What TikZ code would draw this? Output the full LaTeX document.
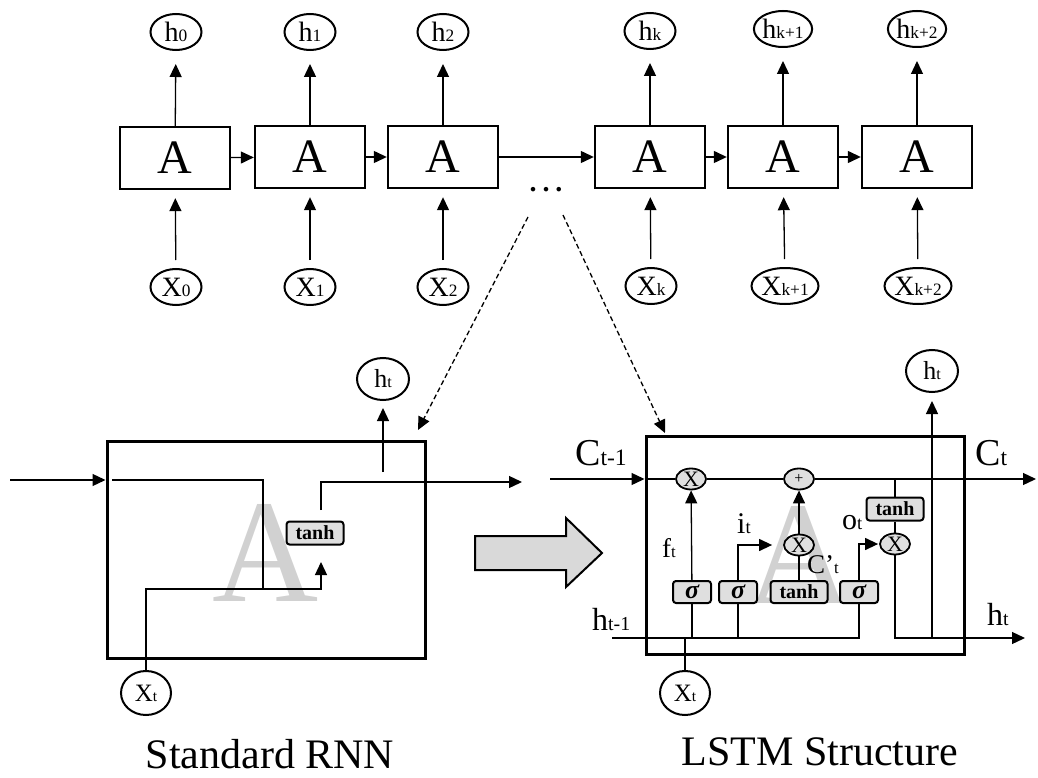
\documentclass[tikz,border=0pt]{standalone}
\usepackage{fontspec}
\setmainfont{Liberation Serif}
\usepackage{graphicx}
\usepackage{tikz}
\usetikzlibrary{positioning,arrows.meta,shapes.geometric,calc}
\newcommand{\fsz}[1]{\fontsize{#1}{#1}\selectfont}
\newcommand{\sbs}[1]{\scalebox{0.62}{#1}}
\tikzset{
  flowarrow/.style={-{Triangle[length=13pt,width=12pt]}, line width=1.3pt},
  plainline/.style={line width=1.3pt},
  linkarrow/.style={-{Triangle[length=13pt,width=12pt]}, line width=1.3pt, dash pattern=on 5pt off 3pt},
  cellbox/.style={draw, line width=2.4pt, minimum width=110, minimum height=62, inner sep=0pt, font=\fsz{48}},
  statenode/.style={draw, ellipse, line width=2pt, minimum width=51, minimum height=36, inner sep=0pt, font=\fsz{28}},
  inputnode/.style={statenode, minimum width=50, minimum height=44, font=\fsz{25}},
  unitbox/.style={draw, line width=3pt, minimum width=318, minimum height=217, inner sep=0pt},
  gatebox/.style={draw, rounded corners=3pt, line width=2pt, fill=gray!25, minimum width=38, minimum height=22, inner sep=0pt, font=\fsz{26}\bfseries\itshape},
  tanhbox/.style={gatebox, minimum width=57, minimum height=23, font=\fsz{20}\bfseries},
  opnode/.style={draw, ellipse, line width=1.8pt, fill=gray!25, minimum width=30, minimum height=21, inner sep=0pt, font=\fsz{22}},
  watermark/.style={text=black!18, font=\fsz{147}, inner sep=0pt},
  tag/.style={inner sep=0pt, anchor=base west},
  caption/.style={inner sep=0pt, anchor=base, font=\fsz{42}}
}
\begin{document}
\begin{tikzpicture}[x=1pt, y=-1pt]
  \useasboundingbox (0,0) rectangle (1038,778);
  % unrolled chain
  \node[cellbox] (cell0) at (175,158) {A};
  \node[cellbox] (cell1) at (310,157) {A};
  \node[cellbox] (cell2) at (443,157) {A};
  \node[cellbox] (cellk) at (650,157) {A};
  \node[cellbox] (cellk1) at (783,157) {A};
  \node[cellbox] (cellk2) at (917,157) {A};
  \node[statenode] (hout0) at (176,32) {h\sbs{0}};
  \node[statenode] (hout1) at (310,32) {h\sbs{1}};
  \node[statenode] (hout2) at (443,32) {h\sbs{2}};
  \node[statenode] (houtk) at (650,31) {h\sbs{k}};
  \node[statenode] (houtk1) at (783,29) {h\sbs{k+1}};
  \node[statenode] (houtk2) at (917,29) {h\sbs{k+2}};
  \node[statenode] (xin0) at (176,287) {X\sbs{0}};
  \node[statenode] (xin1) at (310,287) {X\sbs{1}};
  \node[statenode] (xin2) at (443,287) {X\sbs{2}};
  \node[statenode] (xink) at (651,286) {X\sbs{k}};
  \node[statenode] (xink1) at (785,286) {X\sbs{k+1}};
  \node[statenode] (xink2) at (918,286) {X\sbs{k+2}};
  \draw[flowarrow, shorten >=13pt] (cell0) -- (hout0);
  \draw[flowarrow, shorten >=13pt] (cell1) -- (hout1);
  \draw[flowarrow, shorten >=13pt] (cell2) -- (hout2);
  \draw[flowarrow, shorten >=13pt] (cellk) -- (houtk);
  \draw[flowarrow, shorten >=13pt] (cellk1) -- (houtk1);
  \draw[flowarrow, shorten >=13pt] (cellk2) -- (houtk2);
  \draw[flowarrow, shorten <=8pt, shorten >=8pt] (xin0) -- (cell0);
  \draw[flowarrow, shorten <=8pt, shorten >=8pt] (xin1) -- (cell1);
  \draw[flowarrow, shorten <=8pt, shorten >=8pt] (xin2) -- (cell2);
  \draw[flowarrow, shorten <=8pt, shorten >=8pt] (xink) -- (cellk);
  \draw[flowarrow, shorten <=8pt, shorten >=8pt] (xink1) -- (cellk1);
  \draw[flowarrow, shorten <=8pt, shorten >=8pt] (xink2) -- (cellk2);
  \draw[flowarrow] (cell0) -- (cell1);
  \draw[flowarrow] (cell1) -- (cell2);
  \draw[flowarrow] (cell2) -- (cellk);
  \draw[flowarrow] (cellk) -- (cellk1);
  \draw[flowarrow] (cellk1) -- (cellk2);
  \node[font=\fsz{28}\bfseries] (dots) at (546,190) {.\hspace{6pt}.\hspace{6pt}.};
  \coordinate (dotsL) at (528,217);
  \coordinate (dotsR) at (563,215);
  \coordinate (rnntop) at (418,430);
  \coordinate (lstmtop) at (665,433);
  \draw[linkarrow] (dotsL) -- (rnntop);
  \draw[linkarrow] (dotsR) -- (lstmtop);

  % standard rnn cell
  \node[watermark] (rnnmark) at (266,553) {A};
  \node[unitbox] (rnn) at (266,549.5) {};
  \coordinate (rnnin) at (10,480);
  \draw[flowarrow] (rnnin) -- (rnn.west |- rnnin);
  \coordinate (rnnc) at (112,480);
  \coordinate (rnnj) at (263,589);
  \draw[plainline] (rnnc) -| (rnnj);
  \node[tanhbox] (rnntanh) at (315,533) {tanh};
  \node[inputnode] (rnnx) at (146,693) {X\sbs{t}};
  \coordinate (rnntip) at (321,562);
  \draw[flowarrow] (rnnx) |- (rnntip |- rnnj) -- (rnntip);
  \coordinate (rnnup) at (321,510);
  \coordinate (rnnout) at (522,482);
  \draw[flowarrow] (rnnup) |- (rnnout);
  \node[statenode, minimum width=52, minimum height=42, font=\fsz{26}] (rnnh) at (383,379) {h\sbs{t}};
  \coordinate (rnnhb) at (383,472);
  \draw[flowarrow, shorten >=7pt] (rnnhb) -- (rnnh);
  \node[caption] (rnncap) at (270,768) {Standard RNN};

  % turn into
  \draw[line width=2pt, fill=gray!30] (475,536) -- (566,536) -- (566,518) -- (602,553)
    -- (566,587) -- (566,570) -- (475,570) -- cycle;

  % lstm cell
  \node[watermark] (lstmmark) at (800,555) {A};
  \node[unitbox, minimum height=218] (lstm) at (805,545) {};
  \coordinate (cin) at (550,479);
  \coordinate (cout) at (1036,479);
  \node[opnode] (fmul) at (691,479) {X};
  \node[opnode, font=\fsz{16}] (cadd) at (799,479) {+};
  \node[opnode] (imul) at (799,545) {X};
  \node[opnode] (omul) at (895,544) {X};
  \node[tanhbox] (otanh) at (895,509) {tanh};
  \node[gatebox] (fgate) at (692,592) {σ};
  \node[gatebox] (igate) at (738,592) {σ};
  \node[tanhbox, minimum height=22] (cgate) at (799,592) {tanh};
  \node[gatebox] (ogate) at (859,592) {σ};
  \node[inputnode] (lstmx) at (685,693) {X\sbs{t}};
  \node[statenode, minimum width=52, minimum height=42, font=\fsz{26}] (lstmh) at (932,371) {h\sbs{t}};
  \coordinate (hin) at (612,638);
  \coordinate (hout) at (1025,638);
  \draw[flowarrow] (cin) -- (lstm.west |- cin);
  \draw[plainline] (lstm.west |- cin) -- (fmul);
  \draw[plainline] (fmul) -- (cadd);
  \draw[flowarrow] (cadd) -- (cout);
  \draw[plainline] (otanh |- cin) -- (otanh);
  \draw[plainline] (otanh) -- (omul);
  \draw[flowarrow] (omul) |- (hout);
  \draw[flowarrow, shorten >=8pt] (lstmh |- hout) -- (lstmh);
  \draw[plainline] (hin) -| (ogate);
  \draw[plainline] (fgate) -- (fgate |- hin);
  \draw[plainline] (igate) -- (igate |- hin);
  \draw[plainline] (lstmx) -- (lstmx |- hin);
  \draw[flowarrow] (fgate) -- (fmul);
  \draw[flowarrow, shorten >=11pt] (igate) |- (imul);
  \draw[plainline] (cgate) -- (imul);
  \draw[flowarrow] (imul) -- (cadd);
  \draw[flowarrow, shorten >=1pt] (ogate) |- (omul);
  \node[tag, font=\fsz{38}] (ctprev) at (575,465) {C\sbs{t-1}};
  \node[tag, font=\fsz{38}] (ctnext) at (975,465) {C\sbs{t}};
  \node[tag, font=\fsz{27}] (ftlab) at (662,557) {f\sbs{t}};
  \node[tag, font=\fsz{30}] (itlab) at (737,533) {i\sbs{t}};
  \node[tag, font=\fsz{30}] (otlab) at (842,529) {o\sbs{t}};
  \node[tag, font=\fsz{27}] (cclab) at (807,573) {C’\sbs{t}};
  \node[tag, font=\fsz{32}] (htprev) at (592,630) {h\sbs{t-1}};
  \node[tag, font=\fsz{32}] (htnext) at (987,625) {h\sbs{t}};
  \node[caption] (lstmcap) at (820,765) {LSTM Structure};
\end{tikzpicture}
\end{document}
